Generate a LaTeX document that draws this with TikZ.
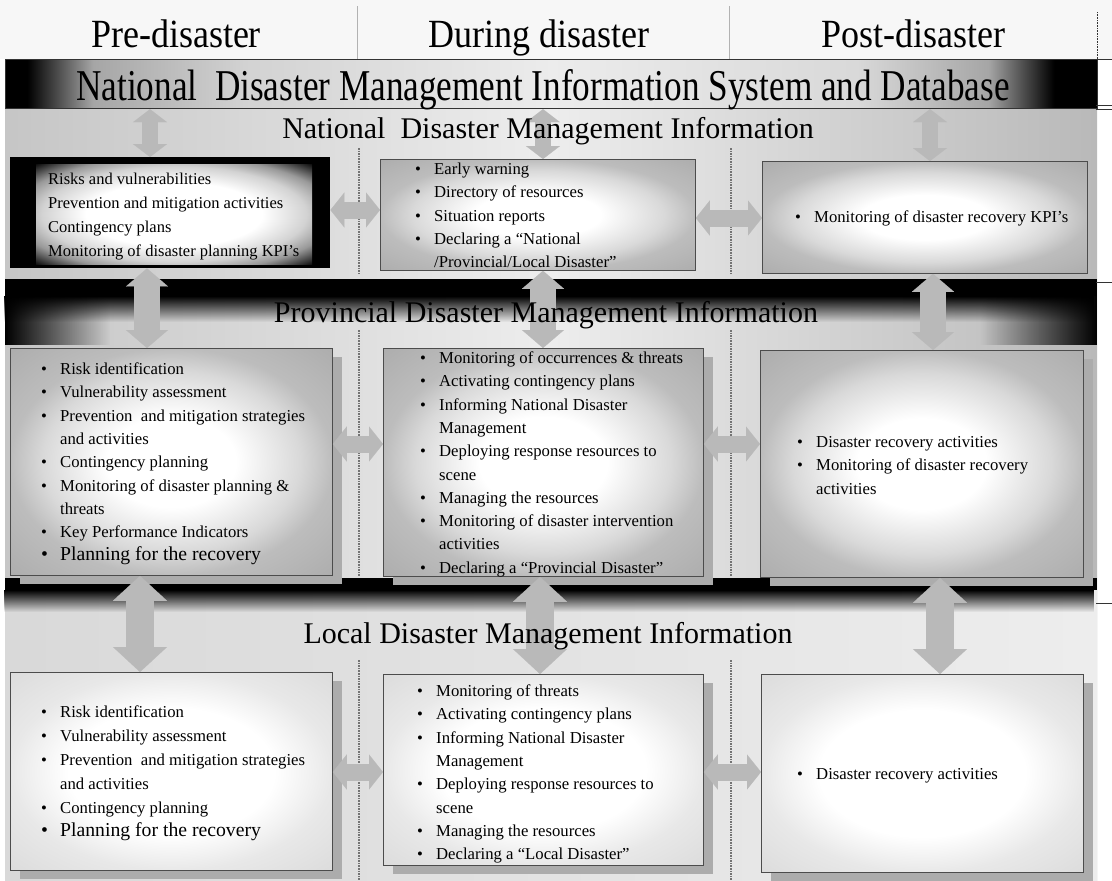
\documentclass[tikz,border=0pt]{standalone}
\usepackage{fontspec}
\setmainfont{Liberation Serif}
\usetikzlibrary{arrows.meta, shadows, fadings}

% glow inside the boxes
\pgfdeclareradialshading{boxglow}{\pgfpoint{0bp}{0bp}}{color(0bp)=(white); color(10bp)=(white); color(20bp)=(gray!30); color(25bp)=(gray!52); color(36bp)=(gray!65)}
\pgfdeclareradialshading{paleglow}{\pgfpoint{0bp}{0bp}}{color(0bp)=(white); color(16bp)=(white); color(25bp)=(gray!18); color(36bp)=(gray!28)}
\pgfdeclareradialshading{darkglow}{\pgfpoint{0bp}{0bp}}{color(0bp)=(white); color(16bp)=(white); color(24bp)=(gray!35); color(29bp)=(gray!80); color(36bp)=(black)}
% dark ends of the top bar
\pgfdeclarehorizontalshading{barshade}{100bp}{color(0bp)=(black); color(26bp)=(black); color(29bp)=(gray!70); color(36bp)=(gray!35); color(50bp)=(gray!15); color(64bp)=(gray!30); color(70bp)=(gray!70); color(73bp)=(black); color(100bp)=(black)}

\newcommand{\bitem}{\strut\makebox[19pt][l]{\textbullet}}
\newcommand{\bcont}{\strut\hspace*{19pt}}

\begin{document}
\begin{tikzpicture}[x = 1pt, y = -1pt,
    phase/.style = {font = \fontsize{40}{44}\selectfont, xscale = 0.9, anchor = base},
    bartext/.style = {font = \fontsize{44}{48}\selectfont, xscale = 0.8, anchor = base},
    tier/.style = {font = \fontsize{30}{34}\selectfont, anchor = base},
    box/.style = {draw = black!70, line width = 0.8pt, inner sep = 0pt, anchor = north west, shade, shading = boxglow},
    lowbox/.style = {box, shading = paleglow},
    shadowed/.style = {drop shadow = {shadow xshift = 10pt, shadow yshift = -9pt, fill = gray!65, opacity = 1}},
    items/.style = {font = \fontsize{16.7}{23.3}\selectfont, align = left, inner sep = 0pt, anchor = north west},
    divider/.style = {densely dotted, line width = 1.6pt, black!55},
    tick/.style = {black!80, line width = 0.6pt},
    harrow/.style = {draw = gray!55, line width = 17pt, > = {Triangle[width = 35pt, length = 14pt, line width = 0.1pt]}, <->},
    varrowa/.style = {draw = gray!55, line width = 16pt, > = {Triangle[width = 34pt, length = 13pt, line width = 0.1pt]}, <->},
    varrowb/.style = {draw = gray!55, line width = 26pt, > = {Triangle[width = 42pt, length = 18pt, line width = 0.1pt]}, <->},
    varrowc/.style = {draw = gray!55, line width = 28pt, > = {Triangle[width = 54pt, length = 25pt, line width = 0.1pt]}, <->}]
    \useasboundingbox (0,0) rectangle (1112,881);

    % background
    \fill [gray!6] (0,0) rectangle (1112,59);
    \shade [left color = gray!45, right color = gray!55, middle color = gray!14] (5,59) rectangle (1097,880);
    \shade [left color = gray!30, right color = gray!14] (5,578) rectangle (1097,880);
    \fill [black] (5,279) rectangle (1097,296);
    \fill [black, path fading = south] (5,296) rectangle (1097,322);
    \fill [black, path fading = east] (5,296) rectangle (110,345);
    \fill [black, path fading = west] (980,296) rectangle (1097,345);
    \fill [black] (5,578) rectangle (1097,590);
    \fill [black, path fading = south] (5,590) rectangle (1097,612);

    % phases
    \draw [gray!60, line width = 0.6pt] (357,6) -- (357,59);
    \draw [gray!60, line width = 0.6pt] (729,6) -- (729,59);
    \draw [tick, densely dotted] (1097,12) -- (1097,59);
    \node [phase] (pre) at (176,47) {Pre-disaster};
    \node [phase] (during) at (539,47) {During disaster};
    \node [phase] (post) at (913,47) {Post-disaster};

    % top bar
    \node [draw = black!80, line width = 1.2pt, shade, shading = barshade, minimum width = 1092pt, minimum height = 49pt, inner sep = 0pt, anchor = north west] (sys) at (5,59) {};
    \node [bartext] (systext) at (543,100) {National\ \ Disaster Management Information System and Database};
    \foreach \y in {59, 105, 109, 282, 603}
        \draw [tick] (1096,\y) -- (1112,\y);

    \foreach \x in {359, 731} {
        \draw [divider] (\x,148) -- (\x,274);
        \draw [divider] (\x,330) -- (\x,576);
        \draw [divider] (\x,660) -- (\x,880);
    }

    % national
    \node [fill = black, inner sep = 0pt, anchor = north west, minimum width = 320pt, minimum height = 111pt] (nat1) at (10,157) {};
    \node [shade, shading = darkglow, inner sep = 0pt, anchor = north west, minimum width = 276pt, minimum height = 100pt] (nat1in) at (36,164) {};
    \node [box, minimum width = 315pt, minimum height = 111pt] (nat2) at (380,159) {};
    \node [box, minimum width = 325pt, minimum height = 112pt] (nat3) at (762,161) {};
    \node [items, font = \fontsize{16.5}{24}\selectfont] (nat1txt) at (29,167) {\bitem Risks and vulnerabilities\\
        \bitem Prevention and mitigation activities\\
        \bitem Contingency plans\\
        \bitem Monitoring of disaster planning KPI's};
    \node [items] (nat2txt) at (415,158) {\bitem Early warning\\
        \bitem Directory of resources\\
        \bitem Situation reports\\
        \bitem Declaring a “National\\
        \bcont /Provincial/Local Disaster”};
    \node [items] (nat3txt) at (795,206) {\bitem Monitoring of disaster recovery KPI's};

    % provincial
    \node [box, shadowed, minimum width = 322pt, minimum height = 227pt] (prov1) at (10,348) {};
    \node [box, shadowed, minimum width = 320pt, minimum height = 228pt] (prov2) at (383,348) {};
    \node [box, shadowed, minimum width = 323pt, minimum height = 227pt] (prov3) at (760,350) {};
    \node [items] (prov1txt) at (41,358) {\bitem Risk identification\\
        \bitem Vulnerability assessment\\
        \bitem Prevention\ \ and mitigation strategies\\
        \bcont and activities\\
        \bitem Contingency planning\\
        \bitem Monitoring of disaster planning \&\\
        \bcont threats\\
        \bitem Key Performance Indicators\\
        {\fontsize{19.7}{23.3}\selectfont\bitem Planning for the recovery}};
    \node [items] (prov2txt) at (420,347) {\bitem Monitoring of occurrences \& threats\\
        \bitem Activating contingency plans\\
        \bitem Informing National Disaster\\
        \bcont Management\\
        \bitem Deploying response resources to\\
        \bcont scene\\
        \bitem Managing the resources\\
        \bitem Monitoring of disaster intervention\\
        \bcont activities\\
        \bitem Declaring a “Provincial Disaster”};
    \node [items] (prov3txt) at (797,431) {\bitem Disaster recovery activities\\
        \bitem Monitoring of disaster recovery\\
        \bcont activities};

    % local
    \node [lowbox, shadowed, minimum width = 322pt, minimum height = 198pt] (loc1) at (10,672) {};
    \node [lowbox, shadowed, minimum width = 320pt, minimum height = 191pt] (loc2) at (383,674) {};
    \node [lowbox, shadowed, minimum width = 322pt, minimum height = 198pt] (loc3) at (761,674) {};
    \node [items, font = \fontsize{16.7}{23.8}\selectfont] (loc1txt) at (41,701) {\bitem Risk identification\\
        \bitem Vulnerability assessment\\
        \bitem Prevention\ \ and mitigation strategies\\
        \bcont and activities\\
        \bitem Contingency planning\\
        {\fontsize{19.7}{23.8}\selectfont\bitem Planning for the recovery}};
    \node [items] (loc2txt) at (417,680) {\bitem Monitoring of threats\\
        \bitem Activating contingency plans\\
        \bitem Informing National Disaster\\
        \bcont Management\\
        \bitem Deploying response resources to\\
        \bcont scene\\
        \bitem Managing the resources\\
        \bitem Declaring a “Local Disaster”};
    \node [items] (loc3txt) at (797,763) {\bitem Disaster recovery activities};

    % arrows between levels
    \coordinate (r1a) at (150,0);
    \coordinate (r1b) at (543,0);
    \coordinate (r1c) at (930,0);
    \coordinate (r2a) at (147,0);
    \coordinate (r2b) at (543,0);
    \coordinate (r2c) at (933,0);
    \coordinate (r3a) at (140,0);
    \coordinate (r3b) at (540,0);
    \coordinate (r3c) at (940,0);
    \draw [varrowa] (sys.south -| r1a) -- (nat1.north -| r1a);
    \draw [varrowa] (sys.south -| r1b) -- (nat2.north -| r1b);
    \draw [varrowa] (sys.south -| r1c) -- (nat3.north -| r1c);
    \draw [varrowb] (nat1.south -| r2a) -- (prov1.north -| r2a);
    \draw [varrowb] (nat2.south -| r2b) -- (prov2.north -| r2b);
    \draw [varrowb] (nat3.south -| r2c) -- (prov3.north -| r2c);
    \draw [varrowc] (prov1.south -| r3a) -- (loc1.north -| r3a);
    \draw [varrowc] (prov2.south -| r3b) -- (loc2.north -| r3b);
    \draw [varrowc] (prov3.south -| r3c) -- (loc3.north -| r3c);

    % arrows between phases
    \coordinate (h1a) at (0,210);
    \coordinate (h1b) at (0,218);
    \coordinate (h2) at (0,444);
    \coordinate (h3) at (0,772);
    \draw [harrow] (nat1.east |- h1a) -- (nat2.west |- h1a);
    \draw [harrow] (nat2.east |- h1b) -- (nat3.west |- h1b);
    \draw [harrow] (prov1.east |- h2) -- (prov2.west |- h2);
    \draw [harrow] (prov2.east |- h2) -- (prov3.west |- h2);
    \draw [harrow] (loc1.east |- h3) -- (loc2.west |- h3);
    \draw [harrow] (loc2.east |- h3) -- (loc3.west |- h3);

    % level titles over the arrows
    \node [tier] (natlev) at (548,138) {National\ \ Disaster Management Information};
    \node [tier] (provlev) at (546,322) {Provincial Disaster Management Information};
    \node [tier] (loclev) at (548,643) {Local Disaster Management Information};
\end{tikzpicture}
\end{document}
